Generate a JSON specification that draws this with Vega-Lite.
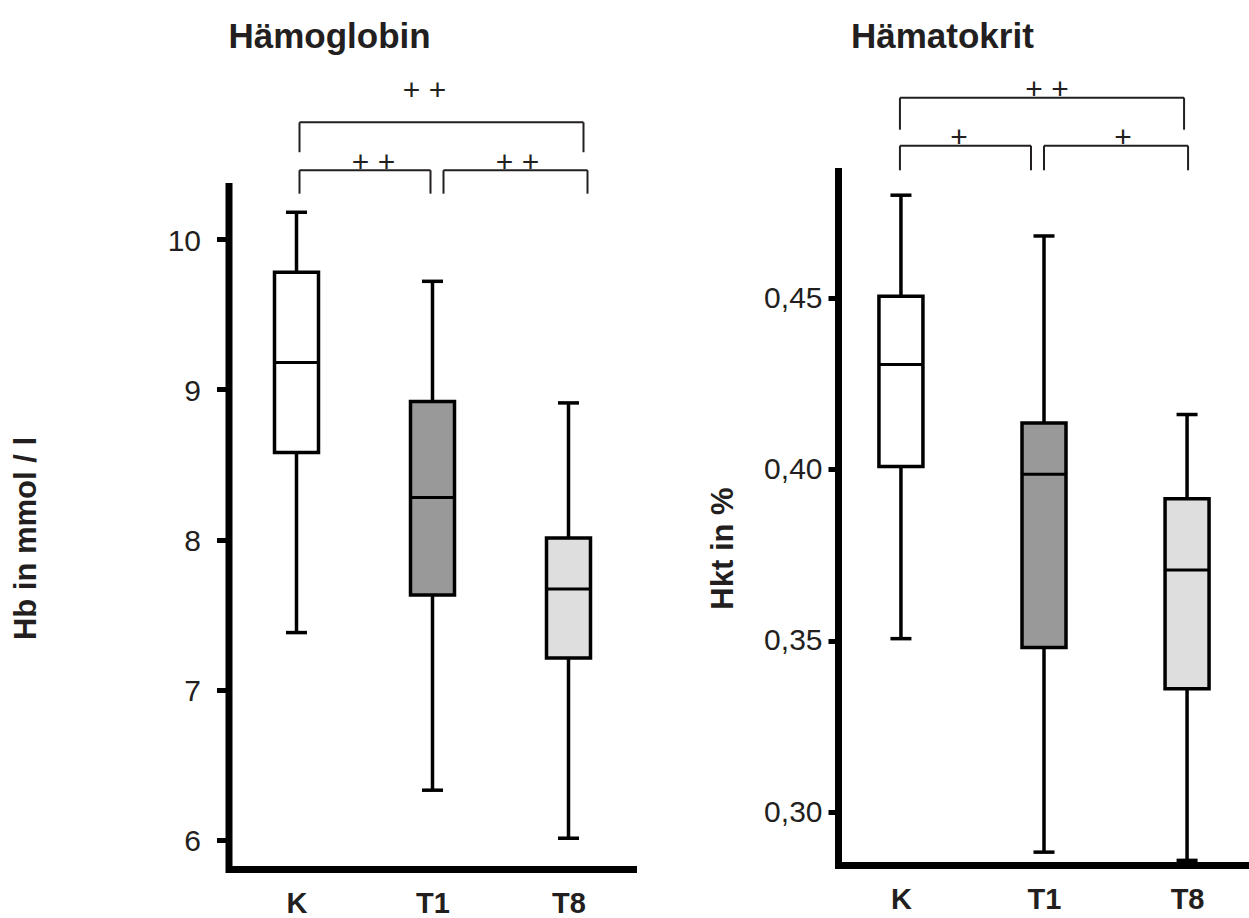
{
  "$schema": "https://vega.github.io/schema/vega-lite/v6.json",
  "padding": {"left": 10.5, "top": 19, "right": 0, "bottom": 0},
  "background": "white",
  "config": {"view": {"stroke": null}, "tick": {"opacity": 1}},
  "datasets": {
    "hb": [
      {"group": "K", "low": 7.38, "q1": 8.58, "med": 9.18, "q3": 9.78, "high": 10.18},
      {"group": "T1", "low": 6.33, "q1": 7.63, "med": 8.28, "q3": 8.92, "high": 9.72},
      {"group": "T8", "low": 6.01, "q1": 7.21, "med": 7.67, "q3": 8.01, "high": 8.91}
    ],
    "hbBr": [
      {"id": "KT8", "from": "K", "to": "T8", "at": "T1", "bar": 10.779, "tip": 10.58, "label": "+ +", "labelY": 10.99},
      {"id": "KT1", "from": "K", "to": "T1", "at": "K", "bar": 10.46, "tip": 10.304, "label": "+ +", "labelY": 10.508},
      {"id": "T1T8", "from": "T1", "to": "T8", "at": "T1", "bar": 10.46, "tip": 10.304, "label": "+ +", "labelY": 10.508}
    ],
    "hkt": [
      {"group": "K", "low": 0.3506, "q1": 0.4008, "med": 0.4306, "q3": 0.4505, "high": 0.480},
      {"group": "T1", "low": 0.2883, "q1": 0.348, "med": 0.3986, "q3": 0.4135, "high": 0.4681},
      {"group": "T8", "low": 0.2859, "q1": 0.336, "med": 0.3706, "q3": 0.3914, "high": 0.416}
    ],
    "hktBr": [
      {"id": "KT8", "from": "K", "to": "T8", "at": "T1", "bar": 0.50845, "tip": 0.49911, "label": "+ +", "labelY": 0.51078},
      {"id": "KT1", "from": "K", "to": "T1", "at": "K", "bar": 0.49444, "tip": 0.48726, "label": "+", "labelY": 0.49683},
      {"id": "T1T8", "from": "T1", "to": "T8", "at": "T1", "bar": 0.49444, "tip": 0.48726, "label": "+", "labelY": 0.49683}
    ]
  },
  "hconcat": [
    {
      "width": 408,
      "height": 698,
      "title": {"text": "Hämoglobin", "anchor": "start", "frame": "group", "fontSize": 35, "font": "Liberation Sans", "fontWeight": "bold", "color": "#231f20", "baseline": "alphabetic", "offset": -7.3},
      "layer": [
        {
          "data": {"name": "hb"},
          "mark": {"type": "rule", "strokeWidth": 3.5, "color": "black"},
          "encoding": {
            "x": {"field": "group", "type": "nominal", "scale": {"type": "point", "domain": ["K", "T1", "T8"], "padding": 0.5},
              "axis": {"title": null, "orient": "bottom", "domainWidth": 7, "domainColor": "black", "domainCap": "butt", "ticks": false, "tickSize": 0, "labelFontSize": 29, "labelFontWeight": "bold", "labelFont": "Liberation Sans", "labelColor": "#231f20", "labelPadding": 20, "labelAngle": 0}},
            "y": {"field": "low", "type": "quantitative", "scale": {"domain": [5.805, 10.355], "range": [698, 15], "nice": false, "zero": false},
              "axis": {"title": "Hb in mmol / l", "values": [6, 7, 8, 9, 10], "format": "d", "grid": false, "domainWidth": 7, "domainColor": "black", "domainCap": "square", "tickSize": 12, "tickWidth": 5, "tickColor": "black", "labelFontSize": 30, "labelFont": "Liberation Sans", "labelColor": "#231f20", "labelPadding": 16, "labelOffset": 2, "titleFont": "Liberation Sans", "titleFontSize": 31, "titleFontWeight": "bold", "titleColor": "#231f20", "titleAngle": -90, "titleX": -202, "titleY": 367, "titleAlign": "center", "titleBaseline": "middle"}},
            "y2": {"field": "high"}
          }
        },
        {
          "data": {"name": "hb"},
          "mark": {"type": "tick", "size": 21, "thickness": 3.5, "color": "black", "opacity": 1},
          "encoding": {"x": {"field": "group", "type": "nominal"}, "y": {"field": "low", "type": "quantitative"}}
        },
        {
          "data": {"name": "hb"},
          "mark": {"type": "tick", "size": 21, "thickness": 3.5, "color": "black", "opacity": 1},
          "encoding": {"x": {"field": "group", "type": "nominal"}, "y": {"field": "high", "type": "quantitative"}}
        },
        {
          "data": {"name": "hb"},
          "mark": {"type": "bar", "width": 44, "stroke": "black", "strokeWidth": 3.5, "opacity": 1},
          "encoding": {
            "x": {"field": "group", "type": "nominal"},
            "y": {"field": "q1", "type": "quantitative"},
            "y2": {"field": "q3"},
            "fill": {"field": "group", "type": "nominal", "scale": {"domain": ["K", "T1", "T8"], "range": ["#ffffff", "#999999", "#dedede"]}, "legend": null}
          }
        },
        {
          "data": {"name": "hb"},
          "mark": {"type": "tick", "size": 44, "thickness": 3, "color": "black", "opacity": 1},
          "encoding": {"x": {"field": "group", "type": "nominal"}, "y": {"field": "med", "type": "quantitative"}}
        },
        {
          "data": {"name": "hbBr"}, "transform": [{"filter": "datum.id === 'KT8'"}],
          "mark": {"type": "rule", "strokeWidth": 2, "color": "#231f20", "xOffset": 3, "x2Offset": 15},
          "encoding": {"x": {"field": "from", "type": "nominal"}, "x2": {"field": "to"}, "y": {"field": "bar", "type": "quantitative"}}
        },
        {
          "data": {"name": "hbBr"}, "transform": [{"filter": "datum.id === 'KT8'"}],
          "mark": {"type": "rule", "strokeWidth": 2, "color": "#231f20", "xOffset": 3},
          "encoding": {"x": {"field": "from", "type": "nominal"}, "y": {"field": "bar", "type": "quantitative"}, "y2": {"field": "tip"}}
        },
        {
          "data": {"name": "hbBr"}, "transform": [{"filter": "datum.id === 'KT8'"}],
          "mark": {"type": "rule", "strokeWidth": 2, "color": "#231f20", "xOffset": 15},
          "encoding": {"x": {"field": "to", "type": "nominal"}, "y": {"field": "bar", "type": "quantitative"}, "y2": {"field": "tip"}}
        },
        {
          "data": {"name": "hbBr"}, "transform": [{"filter": "datum.id === 'KT8'"}],
          "mark": {"type": "text", "fontSize": 30, "font": "Liberation Sans", "color": "#231f20", "dx": -8, "baseline": "middle"},
          "encoding": {"x": {"field": "at", "type": "nominal"}, "y": {"field": "labelY", "type": "quantitative"}, "text": {"field": "label"}}
        },
        {
          "data": {"name": "hbBr"}, "transform": [{"filter": "datum.id === 'KT1'"}],
          "mark": {"type": "rule", "strokeWidth": 2, "color": "#231f20", "xOffset": 3, "x2Offset": -2},
          "encoding": {"x": {"field": "from", "type": "nominal"}, "x2": {"field": "to"}, "y": {"field": "bar", "type": "quantitative"}}
        },
        {
          "data": {"name": "hbBr"}, "transform": [{"filter": "datum.id === 'KT1'"}],
          "mark": {"type": "rule", "strokeWidth": 2, "color": "#231f20", "xOffset": 3},
          "encoding": {"x": {"field": "from", "type": "nominal"}, "y": {"field": "bar", "type": "quantitative"}, "y2": {"field": "tip"}}
        },
        {
          "data": {"name": "hbBr"}, "transform": [{"filter": "datum.id === 'KT1'"}],
          "mark": {"type": "rule", "strokeWidth": 2, "color": "#231f20", "xOffset": -2},
          "encoding": {"x": {"field": "to", "type": "nominal"}, "y": {"field": "bar", "type": "quantitative"}, "y2": {"field": "tip"}}
        },
        {
          "data": {"name": "hbBr"}, "transform": [{"filter": "datum.id === 'KT1'"}],
          "mark": {"type": "text", "fontSize": 30, "font": "Liberation Sans", "color": "#231f20", "dx": 77, "baseline": "middle"},
          "encoding": {"x": {"field": "at", "type": "nominal"}, "y": {"field": "labelY", "type": "quantitative"}, "text": {"field": "label"}}
        },
        {
          "data": {"name": "hbBr"}, "transform": [{"filter": "datum.id === 'T1T8'"}],
          "mark": {"type": "rule", "strokeWidth": 2, "color": "#231f20", "xOffset": 11, "x2Offset": 19},
          "encoding": {"x": {"field": "from", "type": "nominal"}, "x2": {"field": "to"}, "y": {"field": "bar", "type": "quantitative"}}
        },
        {
          "data": {"name": "hbBr"}, "transform": [{"filter": "datum.id === 'T1T8'"}],
          "mark": {"type": "rule", "strokeWidth": 2, "color": "#231f20", "xOffset": 11},
          "encoding": {"x": {"field": "from", "type": "nominal"}, "y": {"field": "bar", "type": "quantitative"}, "y2": {"field": "tip"}}
        },
        {
          "data": {"name": "hbBr"}, "transform": [{"filter": "datum.id === 'T1T8'"}],
          "mark": {"type": "rule", "strokeWidth": 2, "color": "#231f20", "xOffset": 19},
          "encoding": {"x": {"field": "to", "type": "nominal"}, "y": {"field": "bar", "type": "quantitative"}, "y2": {"field": "tip"}}
        },
        {
          "data": {"name": "hbBr"}, "transform": [{"filter": "datum.id === 'T1T8'"}],
          "mark": {"type": "text", "fontSize": 30, "font": "Liberation Sans", "color": "#231f20", "dx": 85, "baseline": "middle"},
          "encoding": {"x": {"field": "at", "type": "nominal"}, "y": {"field": "labelY", "type": "quantitative"}, "text": {"field": "label"}}
        }
      ]
    },
    {
      "width": 412,
      "height": 694,
      "title": {"text": "Hämatokrit", "anchor": "start", "frame": "group", "dx": 13, "fontSize": 35, "font": "Liberation Sans", "fontWeight": "bold", "color": "#231f20", "baseline": "alphabetic", "offset": -8.3},
      "layer": [
        {
          "data": {"name": "hkt"},
          "mark": {"type": "rule", "strokeWidth": 3.5, "color": "black"},
          "encoding": {
            "x": {"field": "group", "type": "nominal", "scale": {"type": "point", "domain": ["K", "T1", "T8"], "padding": 0.44},
              "axis": {"title": null, "orient": "bottom", "domainWidth": 7, "domainColor": "black", "domainCap": "butt", "ticks": false, "tickSize": 0, "labelFontSize": 29, "labelFontWeight": "bold", "labelFont": "Liberation Sans", "labelColor": "#231f20", "labelPadding": 20, "labelAngle": 0}},
            "y": {"field": "low", "type": "quantitative", "scale": {"domain": [0.28455, 0.48706], "nice": false, "zero": false},
              "axis": {"title": "Hkt in %", "values": [0.30, 0.35, 0.40, 0.45], "labelExpr": "replace(format(datum.value, '.2f'), '.', ',')", "grid": false, "domainWidth": 7, "domainColor": "black", "domainCap": "square", "tickSize": 10, "tickWidth": 5, "tickColor": "black", "labelFontSize": 30, "labelFont": "Liberation Sans", "labelColor": "#231f20", "labelPadding": 6, "titleFont": "Liberation Sans", "titleFontSize": 31, "titleFontWeight": "bold", "titleColor": "#231f20", "titleAngle": -90, "titleX": -115, "titleY": 377, "titleAlign": "center", "titleBaseline": "middle"}},
            "y2": {"field": "high"}
          }
        },
        {
          "data": {"name": "hkt"},
          "mark": {"type": "tick", "size": 21, "thickness": 3.5, "color": "black", "opacity": 1},
          "encoding": {"x": {"field": "group", "type": "nominal"}, "y": {"field": "low", "type": "quantitative"}}
        },
        {
          "data": {"name": "hkt"},
          "mark": {"type": "tick", "size": 21, "thickness": 3.5, "color": "black", "opacity": 1},
          "encoding": {"x": {"field": "group", "type": "nominal"}, "y": {"field": "high", "type": "quantitative"}}
        },
        {
          "data": {"name": "hkt"},
          "mark": {"type": "bar", "width": 44, "stroke": "black", "strokeWidth": 3.5, "opacity": 1},
          "encoding": {
            "x": {"field": "group", "type": "nominal"},
            "y": {"field": "q1", "type": "quantitative"},
            "y2": {"field": "q3"},
            "fill": {"field": "group", "type": "nominal", "scale": {"domain": ["K", "T1", "T8"], "range": ["#ffffff", "#999999", "#dedede"]}, "legend": null}
          }
        },
        {
          "data": {"name": "hkt"},
          "mark": {"type": "tick", "size": 44, "thickness": 3, "color": "black", "opacity": 1},
          "encoding": {"x": {"field": "group", "type": "nominal"}, "y": {"field": "med", "type": "quantitative"}}
        },
        {
          "data": {"name": "hktBr"}, "transform": [{"filter": "datum.id === 'KT8'"}],
          "mark": {"type": "rule", "strokeWidth": 2, "color": "#231f20", "xOffset": -1, "x2Offset": -3},
          "encoding": {"x": {"field": "from", "type": "nominal"}, "x2": {"field": "to"}, "y": {"field": "bar", "type": "quantitative"}}
        },
        {
          "data": {"name": "hktBr"}, "transform": [{"filter": "datum.id === 'KT8'"}],
          "mark": {"type": "rule", "strokeWidth": 2, "color": "#231f20", "xOffset": -1},
          "encoding": {"x": {"field": "from", "type": "nominal"}, "y": {"field": "bar", "type": "quantitative"}, "y2": {"field": "tip"}}
        },
        {
          "data": {"name": "hktBr"}, "transform": [{"filter": "datum.id === 'KT8'"}],
          "mark": {"type": "rule", "strokeWidth": 2, "color": "#231f20", "xOffset": -3},
          "encoding": {"x": {"field": "to", "type": "nominal"}, "y": {"field": "bar", "type": "quantitative"}, "y2": {"field": "tip"}}
        },
        {
          "data": {"name": "hktBr"}, "transform": [{"filter": "datum.id === 'KT8'"}],
          "mark": {"type": "text", "fontSize": 30, "font": "Liberation Sans", "color": "#231f20", "dx": 3, "baseline": "middle"},
          "encoding": {"x": {"field": "at", "type": "nominal"}, "y": {"field": "labelY", "type": "quantitative"}, "text": {"field": "label"}}
        },
        {
          "data": {"name": "hktBr"}, "transform": [{"filter": "datum.id === 'KT1'"}],
          "mark": {"type": "rule", "strokeWidth": 2, "color": "#231f20", "xOffset": -1, "x2Offset": -13},
          "encoding": {"x": {"field": "from", "type": "nominal"}, "x2": {"field": "to"}, "y": {"field": "bar", "type": "quantitative"}}
        },
        {
          "data": {"name": "hktBr"}, "transform": [{"filter": "datum.id === 'KT1'"}],
          "mark": {"type": "rule", "strokeWidth": 2, "color": "#231f20", "xOffset": -1},
          "encoding": {"x": {"field": "from", "type": "nominal"}, "y": {"field": "bar", "type": "quantitative"}, "y2": {"field": "tip"}}
        },
        {
          "data": {"name": "hktBr"}, "transform": [{"filter": "datum.id === 'KT1'"}],
          "mark": {"type": "rule", "strokeWidth": 2, "color": "#231f20", "xOffset": -13},
          "encoding": {"x": {"field": "to", "type": "nominal"}, "y": {"field": "bar", "type": "quantitative"}, "y2": {"field": "tip"}}
        },
        {
          "data": {"name": "hktBr"}, "transform": [{"filter": "datum.id === 'KT1'"}],
          "mark": {"type": "text", "fontSize": 30, "font": "Liberation Sans", "color": "#231f20", "dx": 58, "baseline": "middle"},
          "encoding": {"x": {"field": "at", "type": "nominal"}, "y": {"field": "labelY", "type": "quantitative"}, "text": {"field": "label"}}
        },
        {
          "data": {"name": "hktBr"}, "transform": [{"filter": "datum.id === 'T1T8'"}],
          "mark": {"type": "rule", "strokeWidth": 2, "color": "#231f20", "xOffset": 0, "x2Offset": 1},
          "encoding": {"x": {"field": "from", "type": "nominal"}, "x2": {"field": "to"}, "y": {"field": "bar", "type": "quantitative"}}
        },
        {
          "data": {"name": "hktBr"}, "transform": [{"filter": "datum.id === 'T1T8'"}],
          "mark": {"type": "rule", "strokeWidth": 2, "color": "#231f20", "xOffset": 0},
          "encoding": {"x": {"field": "from", "type": "nominal"}, "y": {"field": "bar", "type": "quantitative"}, "y2": {"field": "tip"}}
        },
        {
          "data": {"name": "hktBr"}, "transform": [{"filter": "datum.id === 'T1T8'"}],
          "mark": {"type": "rule", "strokeWidth": 2, "color": "#231f20", "xOffset": 1},
          "encoding": {"x": {"field": "to", "type": "nominal"}, "y": {"field": "bar", "type": "quantitative"}, "y2": {"field": "tip"}}
        },
        {
          "data": {"name": "hktBr"}, "transform": [{"filter": "datum.id === 'T1T8'"}],
          "mark": {"type": "text", "fontSize": 30, "font": "Liberation Sans", "color": "#231f20", "dx": 79, "baseline": "middle"},
          "encoding": {"x": {"field": "at", "type": "nominal"}, "y": {"field": "labelY", "type": "quantitative"}, "text": {"field": "label"}}
        }
      ]
    }
  ],
  "spacing": 70.5
}
